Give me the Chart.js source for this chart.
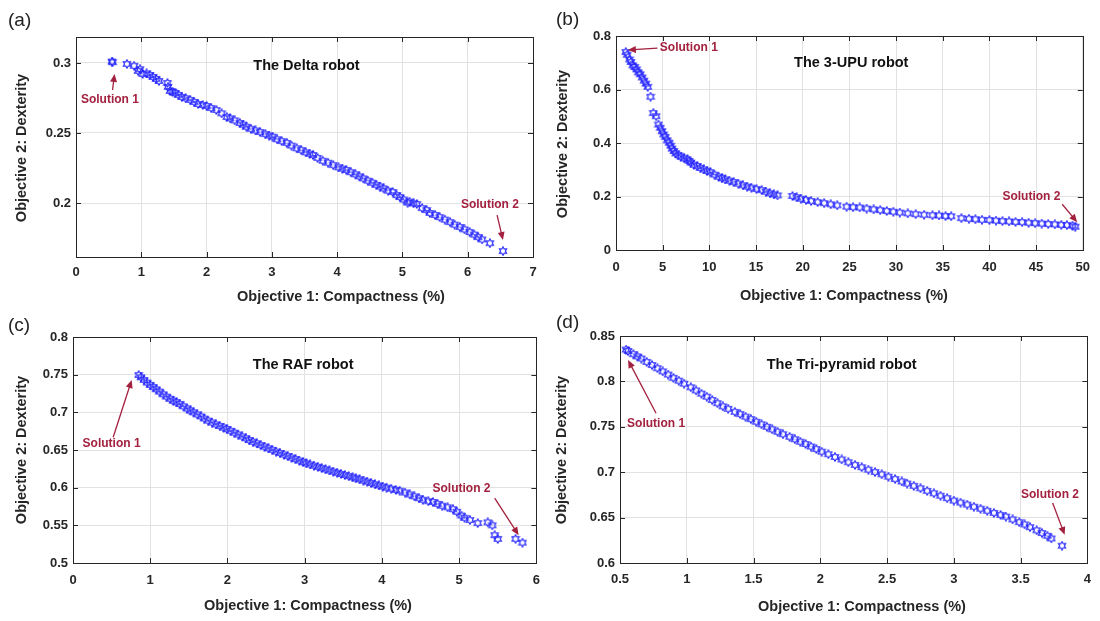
<!DOCTYPE html>
<html>
<head>
<meta charset="utf-8">
<script src="https://cdn.jsdelivr.net/npm/chart.js@4.4.1/dist/chart.umd.min.js"></script>
<style>
    body { margin: 0; background: #fff; width: 1100px; height: 621px; position: relative; overflow: hidden;
           font-family: "Liberation Sans", Arial, sans-serif; }
    canvas { position: absolute; }
    .tag { position: absolute; font-size: 19px; color: #222; line-height: 22px; }
</style>
</head>
<body>
<canvas id="chartA" width="550" height="310" style="left:0;top:0"></canvas>
<canvas id="chartB" width="550" height="310" style="left:550px;top:0"></canvas>
<canvas id="chartC" width="550" height="311" style="left:0;top:310px"></canvas>
<canvas id="chartD" width="550" height="311" style="left:550px;top:310px"></canvas>
<div class="tag" style="left:8px;top:9px">(a)</div>
<div class="tag" style="left:556px;top:8px">(b)</div>
<div class="tag" style="left:8px;top:314px">(c)</div>
<div class="tag" style="left:556px;top:311px">(d)</div>

<script>
// Pareto fronts (x = compactness %, y = dexterity)
const deltaX = [0.55, 0.56, 0.78, 0.89, 0.95, 0.98, 1.02, 1.08, 1.13, 1.18, 1.23, 1.27, 1.40, 1.41, 1.44, 1.48,
    1.52, 1.57, 1.62, 1.68, 1.75, 1.81, 1.87, 1.94, 2.00, 2.07, 2.15, 2.23, 2.31, 2.36, 2.43, 2.51, 2.56, 2.61,
    2.68, 2.75, 2.82, 2.90, 2.96, 3.01, 3.08, 3.15, 3.23, 3.30, 3.38, 3.45, 3.52, 3.58, 3.63, 3.70, 3.78, 3.86,
    3.94, 4.02, 4.08, 4.14, 4.21, 4.28, 4.34, 4.40, 4.47, 4.54, 4.60, 4.66, 4.71, 4.78, 4.85, 4.91, 4.96, 5.02,
    5.08, 5.11, 5.17, 5.22, 5.30, 5.37, 5.42, 5.50, 5.57, 5.65, 5.73, 5.80, 5.88, 5.95, 6.03, 6.10, 6.16, 6.22,
    6.34, 6.54];
const deltaY = [0.3010, 0.3005, 0.2993, 0.2979, 0.2943, 0.2955, 0.2921, 0.2925, 0.2914, 0.2900, 0.2886, 0.2871,
    0.2857, 0.2829, 0.2800, 0.2795, 0.2786, 0.2772, 0.2757, 0.2748, 0.2736, 0.2722, 0.2707, 0.2700, 0.2693,
    0.2678, 0.2664, 0.2640, 0.2614, 0.2605, 0.2590, 0.2571, 0.2560, 0.2545, 0.2530, 0.2518, 0.2507, 0.2492,
    0.2482, 0.2474, 0.2455, 0.2442, 0.2429, 0.2410, 0.2391, 0.2378, 0.2362, 0.2352, 0.2343, 0.2322, 0.2302,
    0.2288, 0.2271, 0.2255, 0.2246, 0.2236, 0.2220, 0.2205, 0.2190, 0.2176, 0.2160, 0.2145, 0.2130, 0.2118,
    0.2105, 0.2088, 0.2079, 0.2057, 0.2043, 0.2025, 0.2003, 0.2010, 0.1998, 0.1993, 0.1964, 0.1950, 0.1929,
    0.1915, 0.1900, 0.1882, 0.1864, 0.1846, 0.1829, 0.1812, 0.1793, 0.1775, 0.1757, 0.1740, 0.1714, 0.1657];

const upuX = [1.05, 1.20, 1.45, 1.60, 1.80, 2.00, 2.20, 2.40, 2.60, 2.80, 3.00, 3.20, 3.40, 3.70, 4.00, 4.30,
    4.55, 4.75, 4.93, 5.10, 5.29, 5.50, 5.70, 5.85, 6.00, 6.20, 6.40, 6.70, 6.95, 7.30, 7.65, 7.85, 8.00, 8.35,
    8.70, 9.05, 9.40, 9.75, 10.10, 10.55, 11.00, 11.35, 11.70, 12.15, 12.60, 13.10, 13.60, 14.05, 14.50, 15.05,
    15.60, 16.05, 16.50, 16.90, 17.30, 18.90, 19.35, 19.80, 20.35, 20.90, 21.60, 22.30, 23.00, 23.70, 24.70,
    25.40, 26.10, 26.85, 27.60, 28.30, 29.00, 29.70, 30.40, 31.25, 32.10, 33.00, 33.90, 34.60, 35.30, 35.90,
    37.00, 37.80, 38.50, 39.20, 40.00, 40.70, 41.40, 42.10, 42.80, 43.50, 44.20, 44.90, 45.60, 46.30, 47.00,
    47.70, 48.30, 48.90, 49.20];
const upuY = [0.740, 0.730, 0.712, 0.703, 0.690, 0.684, 0.675, 0.664, 0.657, 0.645, 0.633, 0.622, 0.610, 0.573,
    0.512, 0.500, 0.469, 0.457, 0.444, 0.432, 0.423, 0.410, 0.401, 0.390, 0.379, 0.370, 0.361, 0.354, 0.349,
    0.343, 0.339, 0.333, 0.327, 0.319, 0.314, 0.307, 0.301, 0.296, 0.291, 0.282, 0.274, 0.269, 0.264, 0.259,
    0.254, 0.248, 0.242, 0.237, 0.233, 0.228, 0.224, 0.218, 0.212, 0.208, 0.204, 0.202, 0.197, 0.192, 0.187,
    0.183, 0.179, 0.175, 0.171, 0.167, 0.162, 0.160, 0.159, 0.155, 0.152, 0.149, 0.146, 0.143, 0.140, 0.137,
    0.134, 0.132, 0.130, 0.129, 0.127, 0.126, 0.119, 0.117, 0.115, 0.113, 0.112, 0.110, 0.108, 0.107, 0.105,
    0.104, 0.102, 0.100, 0.099, 0.097, 0.096, 0.094, 0.093, 0.091, 0.087];

const rafX = [0.85, 0.88, 0.92, 0.96, 1.00, 1.04, 1.08, 1.12, 1.17, 1.21, 1.26, 1.30, 1.34, 1.38, 1.43, 1.48,
    1.52, 1.56, 1.61, 1.66, 1.70, 1.75, 1.80, 1.85, 1.90, 1.95, 1.99, 2.04, 2.09, 2.14, 2.19, 2.24, 2.28, 2.33,
    2.38, 2.43, 2.48, 2.53, 2.58, 2.63, 2.68, 2.73, 2.78, 2.83, 2.88, 2.93, 2.98, 3.02, 3.07, 3.12, 3.17, 3.22,
    3.27, 3.32, 3.37, 3.42, 3.47, 3.52, 3.57, 3.62, 3.66, 3.71, 3.76, 3.81, 3.86, 3.91, 3.96, 4.01, 4.06, 4.12,
    4.18, 4.23, 4.30, 4.36, 4.42, 4.48, 4.53, 4.60, 4.66, 4.72, 4.78, 4.85, 4.92, 4.97, 5.03, 5.07, 5.14, 5.24,
    5.37, 5.43, 5.46, 5.50, 5.73, 5.82];
const rafY = [0.7495, 0.7465, 0.7430, 0.7395, 0.7365, 0.7335, 0.7306, 0.7275, 0.7240, 0.7209, 0.7180, 0.7155,
    0.7135, 0.7112, 0.7080, 0.7050, 0.7025, 0.7000, 0.6972, 0.6945, 0.6918, 0.6890, 0.6865, 0.6840, 0.6820,
    0.6798, 0.6780, 0.6755, 0.6730, 0.6705, 0.6680, 0.6655, 0.6632, 0.6610, 0.6588, 0.6565, 0.6545, 0.6523,
    0.6502, 0.6480, 0.6460, 0.6440, 0.6420, 0.6400, 0.6380, 0.6360, 0.6340, 0.6324, 0.6308, 0.6292, 0.6276,
    0.6260, 0.6244, 0.6228, 0.6213, 0.6198, 0.6183, 0.6168, 0.6153, 0.6138, 0.6124, 0.6111, 0.6095, 0.6080,
    0.6062, 0.6045, 0.6030, 0.6015, 0.6000, 0.5985, 0.5970, 0.5960, 0.5935, 0.5910, 0.5885, 0.5860, 0.5840,
    0.5820, 0.5810, 0.5785, 0.5760, 0.5740, 0.5715, 0.5680, 0.5630, 0.5600, 0.5570, 0.5530, 0.5540, 0.5500,
    0.5370, 0.5320, 0.5320, 0.5270];

const triX = [0.545, 0.56, 0.60, 0.63, 0.66, 0.70, 0.74, 0.78, 0.82, 0.86, 0.90, 0.94, 0.98, 1.03, 1.07, 1.11,
    1.15, 1.19, 1.23, 1.27, 1.31, 1.36, 1.40, 1.44, 1.48, 1.52, 1.56, 1.60, 1.64, 1.68, 1.72, 1.77, 1.81, 1.85,
    1.89, 1.93, 1.97, 2.01, 2.06, 2.11, 2.16, 2.21, 2.26, 2.31, 2.36, 2.41, 2.46, 2.51, 2.56, 2.61, 2.65, 2.70,
    2.75, 2.80, 2.85, 2.90, 2.95, 3.00, 3.05, 3.10, 3.15, 3.20, 3.25, 3.30, 3.35, 3.39, 3.44, 3.49, 3.53, 3.57,
    3.62, 3.66, 3.70, 3.73, 3.81];
const triY = [0.8350, 0.8335, 0.8300, 0.8275, 0.8252, 0.8215, 0.8180, 0.8145, 0.8110, 0.8075, 0.8040, 0.8008,
    0.7975, 0.7935, 0.7900, 0.7865, 0.7832, 0.7795, 0.7760, 0.7725, 0.7698, 0.7665, 0.7640, 0.7612, 0.7585,
    0.7556, 0.7528, 0.7500, 0.7472, 0.7445, 0.7418, 0.7390, 0.7363, 0.7336, 0.7311, 0.7283, 0.7255, 0.7226,
    0.7198, 0.7168, 0.7140, 0.7110, 0.7080, 0.7055, 0.7028, 0.7002, 0.6977, 0.6951, 0.6925, 0.6898, 0.6875,
    0.6850, 0.6823, 0.6795, 0.6768, 0.6741, 0.6714, 0.6687, 0.6665, 0.6643, 0.6620, 0.6598, 0.6575, 0.6552,
    0.6530, 0.6511, 0.6480, 0.6450, 0.6425, 0.6395, 0.6360, 0.6330, 0.6300, 0.6270, 0.6190];

// Tick labels per panel
const deltaXTicks = [0, 1, 2, 3, 4, 5, 6, 7];
const deltaYTicks = [0.2, 0.25, 0.3];
const upuXTicks = [0, 5, 10, 15, 20, 25, 30, 35, 40, 45, 50];
const upuYTicks = [0, 0.2, 0.4, 0.6, 0.8];
const rafXTicks = [0, 1, 2, 3, 4, 5, 6];
const rafYTicks = [0.5, 0.55, 0.6, 0.65, 0.7, 0.75, 0.8];
const triXTicks = [0.5, 1, 1.5, 2, 2.5, 3, 3.5, 4];
const triYTicks = [0.6, 0.65, 0.7, 0.75, 0.8, 0.85];

const FONT = '"Liberation Sans", Arial, sans-serif';
const INK = '#262626';
const NOTE = '#a3213e';

// MATLAB-like hexagram marker drawn once and reused as pointStyle
function makeHexagram() {
    const c = document.createElement('canvas');
    c.width = 10; c.height = 10;
    const g = c.getContext('2d');
    g.strokeStyle = '#2626ff';
    g.lineWidth = 1.1;
    g.beginPath();
    for (let k = 0; k < 12; k++) {
        const r = k % 2 ? 2.4 : 4.2;
        const a = -Math.PI / 2 + k * Math.PI / 6;
        const px = 5 + r * Math.cos(a), py = 5 + r * Math.sin(a);
        k ? g.lineTo(px, py) : g.moveTo(px, py);
    }
    g.closePath();
    g.stroke();
    return c;
}

function drawArrow(ctx, x1, y1, x2, y2) {
    const ang = Math.atan2(y2 - y1, x2 - x1);
    const len = 8, half = 3.5;
    const cos = Math.cos(ang), sin = Math.sin(ang);
    ctx.beginPath();
    ctx.moveTo(x1, y1);
    ctx.lineTo(x2 - cos * len * 0.7, y2 - sin * len * 0.7);
    ctx.stroke();
    ctx.beginPath();
    ctx.moveTo(x2, y2);
    ctx.lineTo(x2 - cos * len - sin * half, y2 - sin * len + cos * half);
    ctx.lineTo(x2 - cos * len + sin * half, y2 - sin * len - cos * half);
    ctx.closePath();
    ctx.fill();
}

// Box, inward ticks, titles and "Solution" call-outs
function decorPlugin(o) {
    return {
        id: 'decor',
        afterDraw(chart) {
            const { ctx, chartArea: a, scales: { x, y } } = chart;
            ctx.save();
            ctx.strokeStyle = INK;
            ctx.lineWidth = 1;
            ctx.beginPath();
            x.ticks.forEach(t => {
                const px = Math.round(x.getPixelForValue(t.value)) + 0.5;
                ctx.moveTo(px, a.bottom); ctx.lineTo(px, a.bottom - 5);
                ctx.moveTo(px, a.top); ctx.lineTo(px, a.top + 5);
            });
            y.ticks.forEach(t => {
                const py = Math.round(y.getPixelForValue(t.value)) + 0.5;
                ctx.moveTo(a.left, py); ctx.lineTo(a.left + 5, py);
                ctx.moveTo(a.right, py); ctx.lineTo(a.right - 5, py);
            });
            ctx.stroke();
            ctx.strokeRect(Math.round(a.left) + 0.5, Math.round(a.top) + 0.5,
                Math.round(a.right - a.left), Math.round(a.bottom - a.top));

            // axis titles
            ctx.fillStyle = INK;
            ctx.font = 'bold 14.5px ' + FONT;
            ctx.textAlign = 'center';
            ctx.textBaseline = 'middle';
            ctx.fillText('Objective 1: Compactness (%)', o.xTitle[0], o.xTitle[1]);
            ctx.save();
            ctx.translate(o.yTitle[0], o.yTitle[1]);
            ctx.rotate(-Math.PI / 2);
            ctx.fillText('Objective 2: Dexterity', 0, 0);
            ctx.restore();

            // panel title
            ctx.fillStyle = '#111';
            ctx.font = 'bold 14.5px ' + FONT;
            ctx.fillText(o.title, x.getPixelForValue(o.titleAt[0]), y.getPixelForValue(o.titleAt[1]));

            // solution call-outs
            ctx.fillStyle = NOTE;
            ctx.strokeStyle = NOTE;
            ctx.lineWidth = 1.3;
            ctx.font = 'bold 12px ' + FONT;
            o.notes.forEach(n => {
                ctx.fillText(n.text, x.getPixelForValue(n.at[0]), y.getPixelForValue(n.at[1]));
                drawArrow(ctx, x.getPixelForValue(n.from[0]), y.getPixelForValue(n.from[1]),
                    x.getPixelForValue(n.to[0]), y.getPixelForValue(n.to[1]));
            });
            ctx.restore();
        }
    };
}

const hexagram = makeHexagram();

function makePanel(id, xs, ys, o) {
    const canvas = document.getElementById(id);
    const W = canvas.width, H = canvas.height;
    const yw = 40, xh = 30;
    const [L, T, R, B] = o.box;
    const tickFont = { family: FONT, size: 13, weight: 'bold' };
    const grid = { color: '#e2e2e2', drawTicks: false };

    new Chart(canvas, {
        type: 'scatter',
        data: {
            datasets: [{
                data: xs.map((v, i) => ({ x: v, y: ys[i] })),
                pointStyle: hexagram,
                pointRadius: 4
            }]
        },
        options: {
            responsive: false,
            animation: false,
            layout: { padding: { left: L - yw, top: T, right: W - R, bottom: H - B - xh } },
            plugins: { legend: { display: false }, tooltip: { enabled: false } },
            scales: {
                x: {
                    type: 'linear',
                    min: o.xRange[0], max: o.xRange[1],
                    afterFit: s => { s.height = xh; },
                    afterBuildTicks: s => { s.ticks = o.xTicks.map(v => ({ value: v })); },
                    ticks: { callback: v => String(v), font: tickFont, color: INK, padding: o.xPad,
                             maxRotation: 0, autoSkip: false },
                    grid: grid,
                    border: { display: false }
                },
                y: {
                    type: 'linear',
                    min: o.yRange[0], max: o.yRange[1],
                    afterFit: s => { s.width = yw; },
                    afterBuildTicks: s => { s.ticks = o.yTicks.map(v => ({ value: v })); },
                    ticks: { callback: v => String(v), font: tickFont, color: INK, padding: 5, autoSkip: false },
                    grid: grid,
                    border: { display: false }
                }
            }
        },
        plugins: [decorPlugin(o)]
    });
}

document.addEventListener("DOMContentLoaded", () => {
    makePanel('chartA', deltaX, deltaY, {
        box: [76, 37, 533, 257], xRange: [0, 7], yRange: [0.1615, 0.3185],
        xTicks: deltaXTicks, yTicks: deltaYTicks, xPad: 8,
        xTitle: [341, 297], yTitle: [22, 148],
        title: 'The Delta robot', titleAt: [3.53, 0.2979],
        notes: [
            { text: 'Solution 1', at: [0.52, 0.2738], from: [0.56, 0.2807], to: [0.59, 0.2921] },
            { text: 'Solution 2', at: [6.34, 0.1986], from: [6.45, 0.1914], to: [6.54, 0.1736] }
        ]
    });
    makePanel('chartB', upuX, upuY, {
        box: [66, 36, 540, 250], xRange: [0, 50], yRange: [0, 0.8],
        xTicks: upuXTicks, yTicks: upuYTicks, xPad: 10,
        xTitle: [294, 296], yTitle: [13, 144],
        title: 'The 3-UPU robot', titleAt: [25.2, 0.698],
        notes: [
            { text: 'Solution 1', at: [7.8, 0.755], from: [4.44, 0.755], to: [1.27, 0.748] },
            { text: 'Solution 2', at: [44.5, 0.201], from: [47.8, 0.171], to: [49.4, 0.104] }
        ]
    });
    makePanel('chartC', rafX, rafY, {
        box: [73, 27, 537, 253], xRange: [0, 6], yRange: [0.5, 0.8],
        xTicks: rafXTicks, yTicks: rafYTicks, xPad: 10,
        xTitle: [308, 296], yTitle: [22, 140],
        title: 'The RAF robot', titleAt: [2.98, 0.763],
        notes: [
            { text: 'Solution 1', at: [0.5, 0.658], from: [0.52, 0.667], to: [0.76, 0.743] },
            { text: 'Solution 2', at: [5.03, 0.598], from: [5.46, 0.586], to: [5.77, 0.537] }
        ]
    });
    makePanel('chartD', triX, triY, {
        box: [70, 26, 542, 253], xRange: [0.5, 4], yRange: [0.6, 0.85],
        xTicks: triXTicks, yTicks: triYTicks, xPad: 9,
        xTitle: [312, 297], yTitle: [12, 140],
        title: 'The Tri-pyramid robot', titleAt: [2.16, 0.818],
        notes: [
            { text: 'Solution 1', at: [0.77, 0.753], from: [0.77, 0.765], to: [0.56, 0.8236] },
            { text: 'Solution 2', at: [3.72, 0.675], from: [3.74, 0.666], to: [3.83, 0.631] }
        ]
    });
});
</script>
</body>
</html>
